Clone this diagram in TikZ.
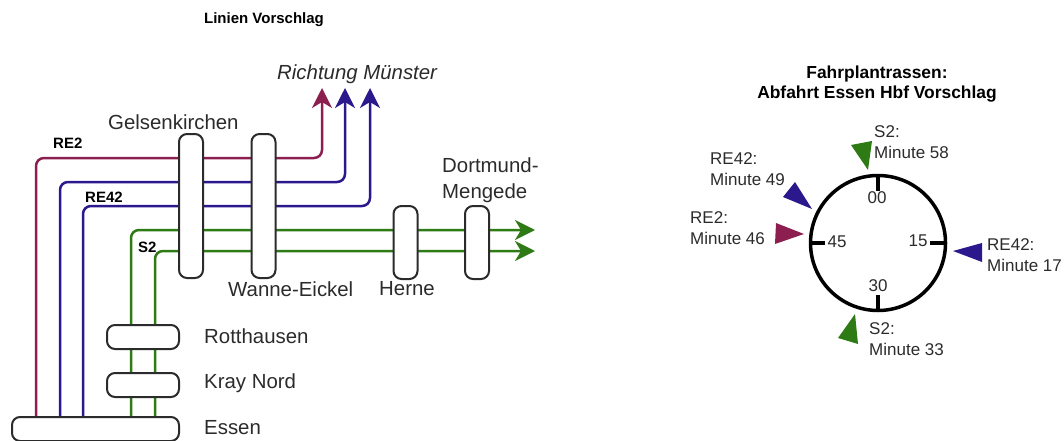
\documentclass[tikz,border=0pt]{standalone}
\usepackage{fontspec}
\setmainfont{Liberation Sans}
\usetikzlibrary{arrows.meta}
\usetikzlibrary{backgrounds}
\definecolor{lnink}{HTML}{2B2B2B}
\definecolor{lnred}{HTML}{8C1F4F}
\definecolor{lnblue}{HTML}{2A188C}
\definecolor{lngreen}{HTML}{2E7A14}
\tikzset{
  lnstation/.style={
    draw=lnink, fill=white, rounded corners=8pt, line width=2pt,
    inner sep=0pt, outer sep=0pt},
  lnline/.style={
    line width=2.5pt, rounded corners=8pt,
    -{Stealth[length=20pt, width=20pt, inset=6pt]}},
  lnlabel/.style={anchor=west, inner sep=0pt, text=lnink,
    font=\fontsize{20.4}{25.5}\selectfont},
  lntag/.style={anchor=west, inner sep=0pt, text=black,
    font=\fontsize{15}{18}\selectfont\bfseries},
  lntime/.style={anchor=west, inner sep=0pt, text=lnink, align=left,
    font=\fontsize{17}{20.8}\selectfont},
  lnnum/.style={inner sep=0pt, text=lnink,
    font=\fontsize{17}{20}\selectfont},
  lntick/.style={line width=3.5pt, draw=black},
}

\begin{document}
\begin{tikzpicture}[x=1pt, y=-1pt]
\useasboundingbox (0, 0) rectangle (1064, 441);

% Titles.
\node[inner sep=0pt, font=\fontsize{15}{18}\selectfont\bfseries] (titleL)
  at (264, 20) {Linien Vorschlag};
\node[inner sep=0pt, align=center, font=\fontsize{17.4}{20.5}\selectfont\bfseries]
  (titleR) at (877, 84) {Fahrplantrassen:\\Abfahrt Essen Hbf Vorschlag};

% Stations.
\node[lnstation, minimum width=24pt, minimum height=144pt] (gelsen) at (191, 206) {};
\node[lnstation, minimum width=24pt, minimum height=144pt] (wanne) at (263.5, 206) {};
\node[lnstation, minimum width=24pt, minimum height=73pt] (herne) at (405.5, 242.5) {};
\node[lnstation, minimum width=24pt, minimum height=73pt] (mengede) at (477, 242.5) {};
\node[lnstation, minimum width=72pt, minimum height=24pt] (rott) at (143, 337) {};
\node[lnstation, minimum width=72pt, minimum height=24pt] (kray) at (143, 385) {};
\node[lnstation, minimum width=167pt, minimum height=24pt] (essen) at (95.5, 429) {};

% Station names.
\node[lnlabel] (lgelsen) at (108, 122) {Gelsenkirchen};
\node[lnlabel] (lwanne) at (228, 289) {Wanne-Eickel};
\node[lnlabel] (lherne) at (379, 289) {Herne};
\node[lnlabel, align=left] (lmengede) at (442, 180) {Dortmund-\\Mengede};
\node[lnlabel] (lrott) at (204, 336) {Rotthausen};
\node[lnlabel] (lkray) at (204, 383) {Kray Nord};
\node[lnlabel] (lessen) at (204, 428) {Essen};
\node[lnlabel, font=\fontsize{20.4}{25.5}\selectfont\itshape] (lmuenster)
  at (277, 74) {Richtung Münster};

% Line names.
\node[lntag] (tre2) at (53, 143) {RE2};
\node[lntag] (tre42) at (85, 197) {RE42};
\node[lntag] (ts2) at (138, 247) {S2};

% Free ends of the lines.
\foreach \n/\x/\y in {re2a/36/417, re2b/200/158, re2c/322/88,
                      rea/60/417, reb/200/182, rec/345/88,
                      rfa/83/417, rfb/200/206, rfc/370/88,
                      sa/131/417, sb/535/230,
                      ta/155/417, tb/535/251} {
  \coordinate (\n) at (\x, \y);
}

% Lines run behind the stations.
\begin{scope}[on background layer]
  \draw[lnline, color=lnred] (re2a) |- (re2b) -| (re2c);
  \draw[lnline, color=lnblue] (rea) |- (reb) -| (rec);
  \draw[lnline, color=lnblue] (rfa) |- (rfb) -| (rfc);
  \draw[lnline, color=lngreen] (sa) |- (sb);
  \draw[lnline, color=lngreen] (ta) |- (tb);
\end{scope}

% Clock face.
\node[circle, draw=black, line width=3.5pt, minimum size=135pt, inner sep=0pt,
      outer sep=0pt] (clock) at (878, 243) {};
\foreach \a/\x/\y in {north/878/191, south/878/295, west/825/243, east/930/243} {
  \coordinate (tick\a) at (\x, \y);
  \draw[lntick] (clock.\a) -- (tick\a);
}
\node[lnnum] (n00) at (877, 198) {00};
\node[lnnum] (n15) at (918, 241) {15};
\node[lnnum] (n30) at (878, 286) {30};
\node[lnnum] (n45) at (837, 242) {45};

% Departure marks.
\fill[lngreen] (851, 145) -- (872, 141) -- (868, 170) -- cycle;
\fill[lnblue] (795, 182) -- (783, 197) -- (812, 209) -- cycle;
\fill[lnred] (776, 223) -- (775, 244) -- (804, 234) -- cycle;
\fill[lnblue] (982, 243) -- (982, 262) -- (953, 251) -- cycle;
\fill[lngreen] (855, 314) -- (838, 338) -- (858, 344) -- cycle;

% Departure times.
\node[lntime] (m58) at (874, 142.5) {S2:\\Minute 58};
\node[lntime] (m49) at (710, 169) {RE42:\\Minute 49};
\node[lntime] (m46) at (690, 228) {RE2:\\Minute 46};
\node[lntime] (m17) at (987, 255.5) {RE42:\\Minute 17};
\node[lntime] (m33) at (869, 339.5) {S2:\\Minute 33};

\end{tikzpicture}
\end{document}
